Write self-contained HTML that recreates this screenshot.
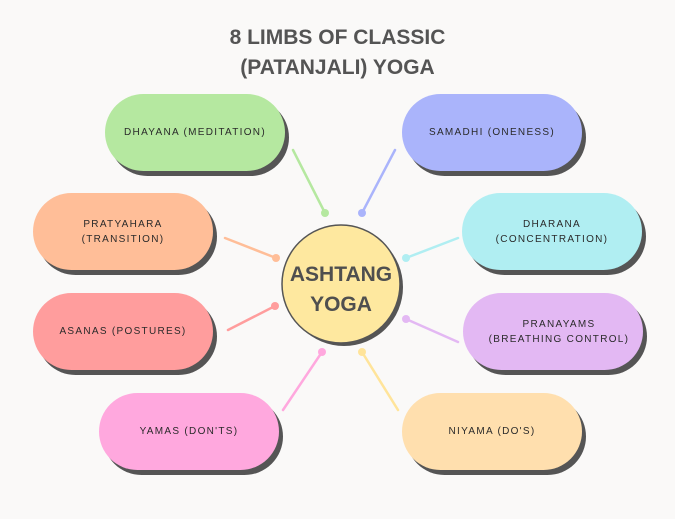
<!DOCTYPE html>
<html><head><style>
html,body{margin:0;padding:0;background:#faf9f8;}
body{width:675px;height:519px;position:relative;overflow:hidden;font-family:"Liberation Sans",sans-serif;}
.t{position:absolute;left:0;width:675px;text-align:center;font-weight:bold;font-size:21px;color:#545454;}
.p{position:absolute;width:180px;height:77px;border-radius:39px;box-shadow:4px 5px 0 #555;display:flex;align-items:center;justify-content:center;text-align:center;font-size:10px;letter-spacing:1.3px;color:#2a2a2a;line-height:15px;}
</style></head><body>
<div class="t" style="top:26px;">8 LIMBS OF CLASSIC</div>
<div class="t" style="top:56px;">(PATANJALI) YOGA</div>
<svg width="675" height="519" style="position:absolute;left:0;top:0">
<g stroke-width="2.5" stroke-linecap="round">
<line x1="293" y1="150" x2="325" y2="213" stroke="#b5e8a0"/><circle cx="325" cy="213" r="4" fill="#b5e8a0"/>
<line x1="395" y1="150" x2="362" y2="213" stroke="#aab4fb"/><circle cx="362" cy="213" r="4" fill="#aab4fb"/>
<line x1="225" y1="238" x2="276" y2="258" stroke="#ffbe98"/><circle cx="276" cy="258" r="4" fill="#ffbe98"/>
<line x1="458" y1="238" x2="406" y2="258" stroke="#b0eef2"/><circle cx="406" cy="258" r="4" fill="#b0eef2"/>
<line x1="228" y1="330" x2="275" y2="306" stroke="#ff9d9d"/><circle cx="275" cy="306" r="4" fill="#ff9d9d"/>
<line x1="458" y1="342" x2="406" y2="319" stroke="#e3b8f3"/><circle cx="406" cy="319" r="4" fill="#e3b8f3"/>
<line x1="283" y1="410" x2="322" y2="352" stroke="#ffa8de"/><circle cx="322" cy="352" r="4" fill="#ffa8de"/>
<line x1="398" y1="410" x2="362" y2="352" stroke="#ffe49a"/><circle cx="362" cy="352" r="4" fill="#ffe49a"/>
</g>
<circle cx="344" cy="287" r="59" fill="#555"/>
<circle cx="341" cy="284" r="59" fill="#fee89f" stroke="#555" stroke-width="1.5"/>
<text x="341" y="281" text-anchor="middle" font-family="Liberation Sans" font-weight="bold" font-size="21" fill="#4f4f4f">ASHTANG</text>
<text x="341" y="311" text-anchor="middle" font-family="Liberation Sans" font-weight="bold" font-size="21" fill="#4f4f4f">YOGA</text>
</svg>
<div class="p" style="left:105px;top:94px;background:#b5e8a0;">DHAYANA (MEDITATION)</div>
<div class="p" style="left:402px;top:94px;background:#aab4fb;">SAMADHI (ONENESS)</div>
<div class="p" style="left:33px;top:193px;background:#ffbe98;">PRATYAHARA<br>(TRANSITION)</div>
<div class="p" style="left:462px;top:193px;background:#b0eef2;">DHARANA<br>(CONCENTRATION)</div>
<div class="p" style="left:33px;top:293px;background:#ff9d9d;">ASANAS (POSTURES)</div>
<div class="p" style="left:463px;top:293px;background:#e3b8f3;padding-left:12px;box-sizing:border-box;">PRANAYAMS<br>(BREATHING CONTROL)</div>
<div class="p" style="left:99px;top:393px;background:#ffa8de;">YAMAS (DON'TS)</div>
<div class="p" style="left:402px;top:393px;background:#ffdfae;">NIYAMA (DO'S)</div>
</body></html>
